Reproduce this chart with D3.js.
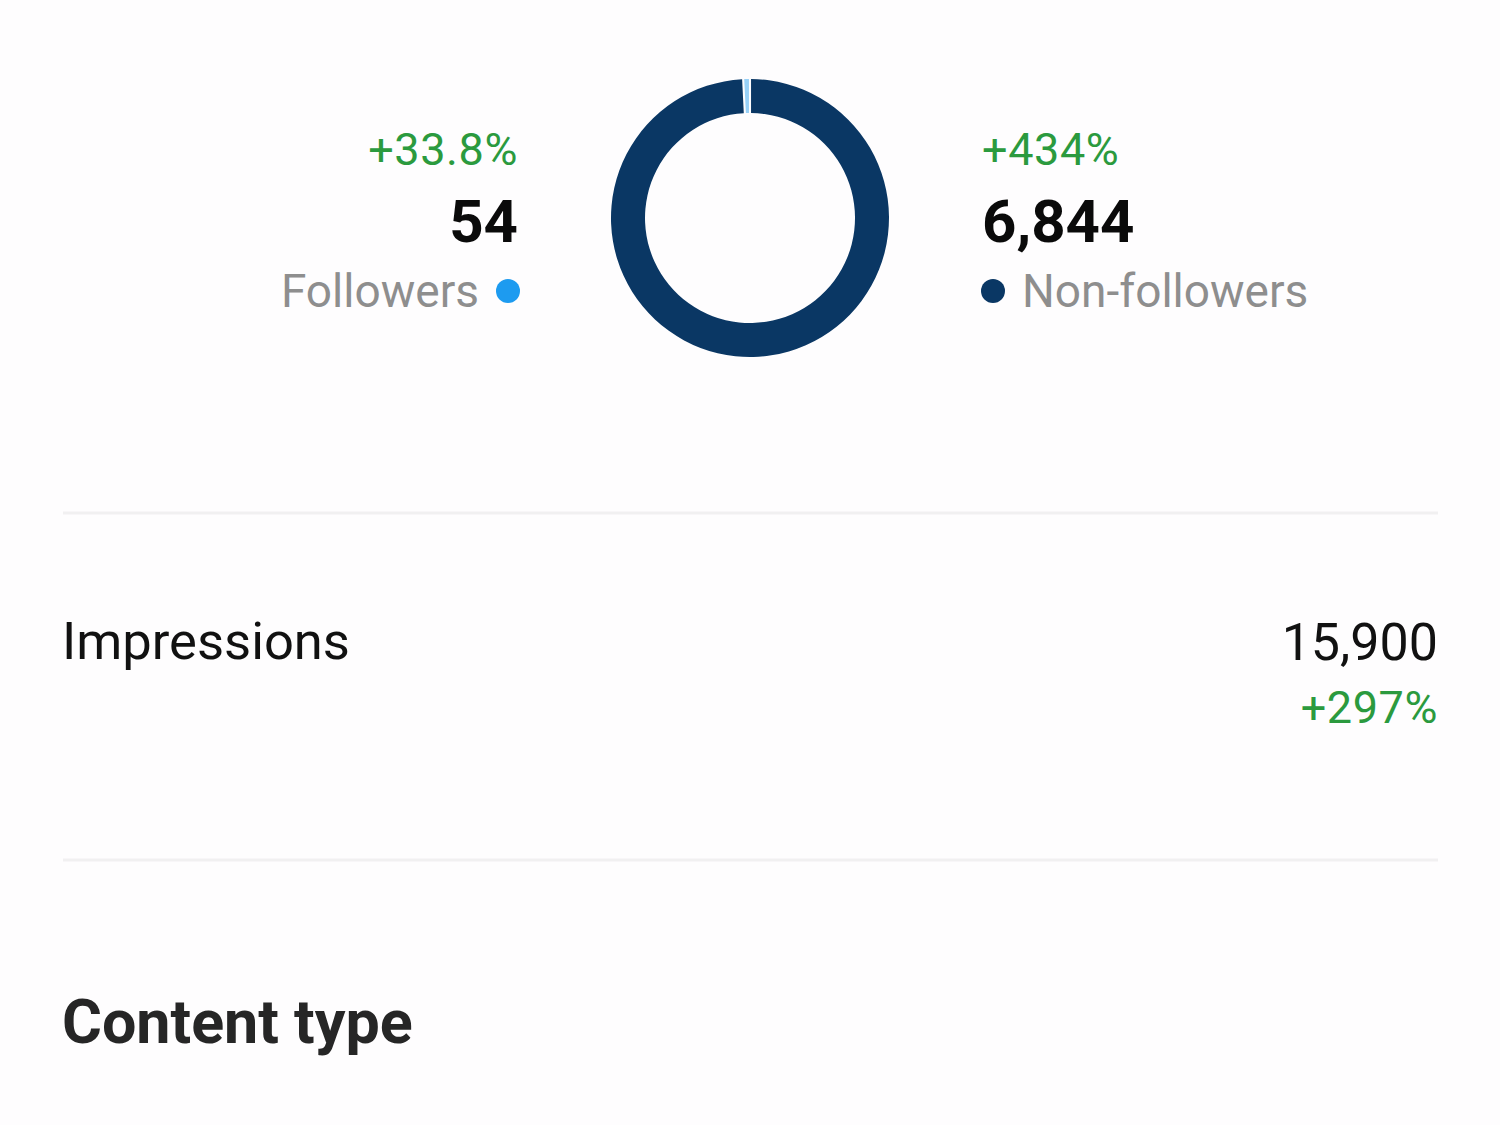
<!DOCTYPE html>
<html>
<head>
<meta charset="utf-8">
<script src="https://cdn.jsdelivr.net/npm/d3@7"></script>
<style>
  html, body { margin: 0; padding: 0; background: #fefdfe; }
  svg { display: block; font-family: Roboto, "Noto Sans", sans-serif; }
</style>
</head>
<body>
<div id="vis"></div>
<script>
// audience split
var audience = ["Followers", "Non-followers"];
var audienceValues = [54, 6844];
var audienceChange = ["+33.8%", "+434%"];
var audienceColors = ["#1d9bf0", "#0a3764"];

// metric rows
var metricNames = ["Impressions"];
var metricValues = [15900];
var metricChange = ["+297%"];

var sectionTitle = "Content type";

var width = 1500, height = 1125;
var cx = 750, cy = 218;
var outerR = 139, innerR = 105;
var COMMA = d3.format(",");

var svg = d3.select("#vis").append("svg")
    .attr("width", width)
    .attr("height", height);

// donut - non-followers first clockwise, followers last sliver before the top
var pie = d3.pie()
    .sort(null)
    .value(function(d) { return d.value; });

var slices = pie([
    { name: audience[1], value: audienceValues[1], color: audienceColors[1] },
    { name: audience[0], value: audienceValues[0], color: audienceColors[0] }
]);

var arc = d3.arc()
    .innerRadius(innerR)
    .outerRadius(outerR)
    .padAngle(0.012);

svg.append("g")
    .attr("transform", "translate(" + cx + "," + cy + ")")
    .selectAll("path")
    .data(slices)
    .enter()
    .append("path")
    .attr("d", arc)
    .attr("fill", function(d) { return d.data.color; })
    .attr("fill-opacity", function(d, i) { return i === 1 ? 0.45 : 1; });

// left legend (followers)
var left = svg.append("g").attr("text-anchor", "end");
left.append("text")
    .attr("x", 518).attr("y", 165)
    .attr("font-size", 45).attr("letter-spacing", 0.6).attr("fill", "#2b9a3e")
    .text(audienceChange[0]);
left.append("text")
    .attr("x", 518).attr("y", 242)
    .attr("font-size", 60).attr("font-weight", 700).attr("fill", "#0a0a0a")
    .text(COMMA(audienceValues[0]));
left.append("text")
    .attr("x", 479).attr("y", 307)
    .attr("font-size", 46).attr("fill", "#8e8e8e")
    .text(audience[0]);
svg.append("circle")
    .attr("cx", 508).attr("cy", 291).attr("r", 12)
    .attr("fill", audienceColors[0]);

// right legend (non-followers)
var right = svg.append("g").attr("text-anchor", "start");
right.append("text")
    .attr("x", 982).attr("y", 165)
    .attr("font-size", 45).attr("letter-spacing", 0.6).attr("fill", "#2b9a3e")
    .text(audienceChange[1]);
right.append("text")
    .attr("x", 982).attr("y", 242)
    .attr("font-size", 60).attr("font-weight", 700).attr("fill", "#0a0a0a")
    .text(COMMA(audienceValues[1]));
svg.append("circle")
    .attr("cx", 993).attr("cy", 291).attr("r", 12)
    .attr("fill", audienceColors[1]);
right.append("text")
    .attr("x", 1022).attr("y", 307)
    .attr("font-size", 46).attr("fill", "#8e8e8e")
    .text(audience[1]);

// dividers
[513, 860].forEach(function(y) {
    svg.append("line")
        .attr("x1", 63).attr("x2", 1438)
        .attr("y1", y).attr("y2", y)
        .attr("stroke", "#f1f0f1").attr("stroke-width", 3);
});

// impressions row
metricNames.forEach(function(name, i) {
    svg.append("text")
        .attr("x", 62).attr("y", 659)
        .attr("font-size", 52.5).attr("fill", "#111")
        .text(name);
    svg.append("text")
        .attr("x", 1438).attr("y", 660)
        .attr("text-anchor", "end")
        .attr("font-size", 52).attr("fill", "#111")
        .text(COMMA(metricValues[i]));
    svg.append("text")
        .attr("x", 1438).attr("y", 723)
        .attr("text-anchor", "end")
        .attr("font-size", 45).attr("letter-spacing", 0.6).attr("fill", "#2b9a3e")
        .text(metricChange[i]);
});

// section header
svg.append("text")
    .attr("x", 62).attr("y", 1043)
    .attr("font-size", 61).attr("font-weight", 700).attr("fill", "#262626")
    .text(sectionTitle);
</script>
</body>
</html>
